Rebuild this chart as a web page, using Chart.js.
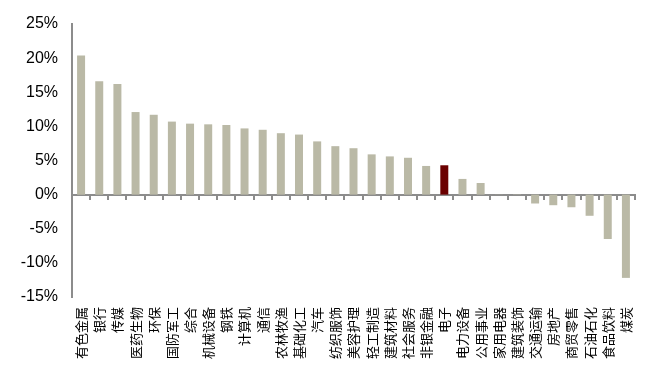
<!DOCTYPE html>
<html>
<head>
<meta charset="utf-8">
<script src="https://cdn.jsdelivr.net/npm/chart.js@4"></script>
<style>
html,body{margin:0;padding:0;background:#fff;}
#wrap{width:659px;height:381px;position:relative;}
</style>
</head>
<body>
<div id="wrap"><canvas id="c" width="659" height="381"></canvas></div>
<script>
const categories = ['有色金属','银行','传媒','医药生物','环保','国防军工','综合','机械设备','钢铁','计算机','通信','农林牧渔','基础化工','汽车','纺织服饰','美容护理','轻工制造','建筑材料','社会服务','非银金融','电子','电力设备','公用事业','家用电器','建筑装饰','交通运输','房地产','商贸零售','石油石化','食品饮料','煤炭'];
const values = [20.4,16.6,16.2,12.1,11.7,10.7,10.4,10.3,10.2,9.7,9.5,9.0,8.8,7.8,7.1,6.8,5.9,5.6,5.4,4.2,4.3,2.3,1.7,0.02,-0.05,-1.3,-1.55,-1.85,-3.1,-6.5,-12.2];
const highlighted = ['电子'];
const yTicks = [-15,-10,-5,0,5,10,15,20,25];

const barColor = '#BAB9A6';
const hiColor = '#6B0000';
const axisColor = '#8C8C8C';

new Chart(document.getElementById('c'), {
  type: 'bar',
  data: {
    labels: categories,
    datasets: [{
      data: values,
      backgroundColor: categories.map(c => highlighted.includes(c) ? hiColor : barColor),
      borderWidth: 0,
      categoryPercentage: 1,
      barPercentage: 0.44
    }]
  },
  options: {
    responsive: false,
    animation: false,
    devicePixelRatio: 1,
    layout: { padding: { left: 0, top: 24, right: 24, bottom: 0 } },
    plugins: { legend: { display: false }, tooltip: { enabled: false } },
    scales: {
      x: {
        type: 'category',
        position: 'bottom',
        offset: true,
        grid: { display: false, drawTicks: false },
        border: { display: false },
        ticks: {
          autoSkip: false,
          minRotation: 90,
          maxRotation: 90,
          padding: 10,
          color: '#000',
          font: { family: '"Noto Sans CJK SC", sans-serif', size: 13 }
        },
        afterFit: s => { s.height = 84; }
      },
      x2: {
        type: 'category',
        position: { y: 0 },
        offset: true,
        grid: { offset: true, drawOnChartArea: false, drawTicks: true, tickLength: 4, color: axisColor, lineWidth: 2 },
        border: { display: true, color: axisColor, width: 2 },
        ticks: { display: false }
      },
      y: {
        min: yTicks[0],
        max: yTicks[yTicks.length - 1],
        afterBuildTicks: s => { s.ticks = yTicks.map(v => ({ value: v })); },
        grid: { display: false, drawTicks: false },
        border: { display: true, color: axisColor, width: 2 },
        ticks: {
          padding: 14,
          color: '#000',
          font: { family: '"Liberation Sans", Arial, sans-serif', size: 16 },
          callback: v => v + '%'
        },
        afterFit: s => { s.width = 72; }
      }
    }
  }
});
</script>
</body>
</html>
